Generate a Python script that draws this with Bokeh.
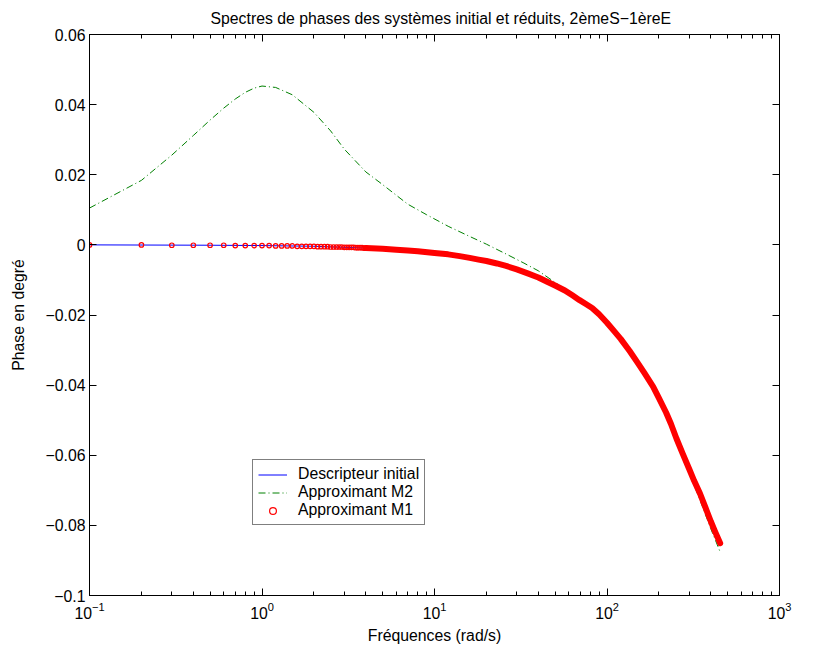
from bokeh.plotting import figure
from bokeh.models import (Range1d, FixedTicker, LinearAxis, LogAxis,
                          CustomJSTickFormatter, Legend, LegendItem)
from bokeh.embed import file_html
from bokeh.resources import INLINE

FONT = "Liberation Sans"
FS = "15.8px"

# ---------------- data ----------------
# Descripteur initial (blue line)
init_freq = [0.1, 0.5, 1, 2, 3, 4, 5, 6, 7, 8, 10, 12, 14, 16, 18, 20, 23,
             26, 30, 35, 40, 45, 50, 57, 63, 69, 75, 82, 90, 100, 110, 120,
             135, 150, 165, 185, 200, 220, 235, 253, 275, 300, 320, 346, 370,
             400, 425, 453]
init_phase = [0.0, -0.0001, -0.0002, -0.0004, -0.0007, -0.0009, -0.0011,
              -0.0014, -0.0016, -0.0018, -0.0023, -0.0027, -0.0032, -0.0037,
              -0.0042, -0.0046, -0.0053, -0.0060, -0.0070, -0.0082, -0.0093,
              -0.0105, -0.0116, -0.0130, -0.0144, -0.0157, -0.0168, -0.0180,
              -0.0198, -0.0222, -0.0246, -0.0268, -0.0302, -0.0335, -0.0366,
              -0.0404, -0.0437, -0.0478, -0.0511, -0.0553, -0.0596, -0.0640,
              -0.0673, -0.0709, -0.0746, -0.0789, -0.0820, -0.0851]

# Approximant M2 (green dash-dot)
m2_freq = [0.1, 0.2, 0.3, 0.4, 0.5, 0.6, 0.7, 0.8, 0.9, 1.0, 1.2, 1.5, 2.0,
           2.5, 3.0, 4.0, 5.0, 7.0, 9.0, 12, 16, 20, 26, 33, 40, 52, 66, 80,
           90, 100, 120, 150, 185, 220, 253, 300, 346, 400, 453]
m2_phase = [0.0105, 0.0184, 0.0256, 0.0312, 0.0356, 0.0390, 0.0416, 0.0435,
            0.0447, 0.0453, 0.0449, 0.0428, 0.0378, 0.0325, 0.0273, 0.0208,
            0.0172, 0.0116, 0.0086, 0.0053, 0.0024, 0.0002, -0.0026, -0.0052,
            -0.0074, -0.0113, -0.0148, -0.0180, -0.0202, -0.0226, -0.0274,
            -0.0340, -0.0412, -0.0488, -0.0560, -0.0650, -0.0728, -0.0810,
            -0.0876]

# Approximant M1 (red circles): individually visible markers
m1_freq = [0.1, 0.2, 0.3, 0.4, 0.5, 0.6, 0.7, 0.8, 0.9, 1.0,
           1.1, 1.2, 1.3, 1.4, 1.5, 1.6, 1.7, 1.8, 1.9, 2.0,
           2.1, 2.2, 2.3, 2.4, 2.5, 2.6, 2.7, 2.8, 2.9, 3.0,
           3.1, 3.2, 3.3, 3.4, 3.5, 3.6, 3.7, 3.8, 3.9, 4.0]
m1_phase = [0.0, 0.0, -0.0001, -0.0001, -0.0001, -0.0001, -0.0002, -0.0002, -0.0002, -0.0002,
            -0.0002, -0.0003, -0.0003, -0.0003, -0.0003, -0.0004, -0.0004, -0.0004, -0.0004, -0.0004,
            -0.0005, -0.0005, -0.0005, -0.0005, -0.0006, -0.0006, -0.0006, -0.0006, -0.0006, -0.0007,
            -0.0007, -0.0007, -0.0007, -0.0007, -0.0008, -0.0008, -0.0008, -0.0008, -0.0009, -0.0009]
# Approximant M1: dense part where the markers merge into a band
m1_band_freq = [4, 5, 6, 7, 8, 10, 12, 14, 16, 18, 20, 23, 26, 30, 35, 40,
                45, 50, 57, 63, 69, 75, 82, 90, 100, 110, 120, 135, 150, 165,
                185, 200, 220, 235, 253, 275, 300, 320, 346, 370, 400, 425, 453]
m1_band_phase = [-0.0009, -0.0011, -0.0014, -0.0016, -0.0018, -0.0023,
                 -0.0027, -0.0032, -0.0037, -0.0042, -0.0046, -0.0053,
                 -0.0060, -0.0070, -0.0082, -0.0093, -0.0105, -0.0116,
                 -0.0130, -0.0144, -0.0157, -0.0168, -0.0180, -0.0198,
                 -0.0222, -0.0246, -0.0268, -0.0302, -0.0335, -0.0366,
                 -0.0404, -0.0437, -0.0478, -0.0511, -0.0553, -0.0596,
                 -0.0640, -0.0673, -0.0709, -0.0746, -0.0789, -0.0820, -0.0851]

x_major = [0.1, 1, 10, 100, 1000]
x_minor = [m * d for d in [0.1, 1, 10, 100] for m in range(2, 10)]
y_ticks = [-0.1, -0.08, -0.06, -0.04, -0.02, 0, 0.02, 0.04, 0.06]

title_text = "Spectres de phases des systèmes initial et réduits, 2èmeS\u22121èreE"

# ---------------- figure ----------------
p = figure(width=810, height=653, x_axis_type="log",
           x_range=Range1d(0.1, 1000), y_range=Range1d(-0.1, 0.06),
           output_backend="svg", toolbar_location=None,
           min_border_left=89, min_border_right=31,
           min_border_top=34, min_border_bottom=58,
           title=title_text)

p.title.text_font = FONT
p.title.text_font_size = FS
p.title.text_font_style = "normal"
p.title.align = "left"
p.title.offset = 121
p.title.standoff = 15
p.title.text_color = "black"

p.xgrid.visible = False
p.ygrid.visible = False
p.outline_line_color = "black"
p.outline_line_width = 1
p.background_fill_color = "white"
p.border_fill_color = "white"

xt = FixedTicker(ticks=x_major, minor_ticks=x_minor)
yt = FixedTicker(ticks=y_ticks, minor_ticks=[])
yfmt = CustomJSTickFormatter(code="""
    let s = Number(tick.toFixed(2)).toString();
    return s.replace('-', '\\u2212');
""")

def style_axis(ax, show_labels=True):
    ax.axis_line_color = "black"
    ax.major_tick_line_color = "black"
    ax.minor_tick_line_color = "black"
    ax.major_tick_in = 7
    ax.major_tick_out = 0
    ax.minor_tick_in = 4
    ax.minor_tick_out = 0
    ax.major_label_text_font = FONT
    ax.major_label_text_color = "black"
    ax.axis_label_text_font = FONT
    ax.axis_label_text_font_size = FS
    ax.axis_label_text_font_style = "normal"
    ax.axis_label_text_color = "black"
    if show_labels:
        ax.major_label_text_font_size = FS
    else:
        ax.major_label_text_font_size = "1px"
        ax.major_label_text_alpha = 0
        ax.major_label_standoff = 0

xa = p.xaxis[0]
xa.ticker = xt
xa.axis_label = "Fréquences (rad/s)"
style_axis(xa)
xa.major_label_standoff = 6
xa.axis_label_standoff = 5

ya = p.yaxis[0]
ya.ticker = yt
ya.formatter = yfmt
ya.axis_label = "Phase en degré"
style_axis(ya)
ya.major_label_standoff = 4
ya.axis_label_standoff = 16

top = LogAxis(ticker=FixedTicker(ticks=x_major, minor_ticks=x_minor))
style_axis(top, show_labels=False)
p.add_layout(top, "above")

right = LinearAxis(ticker=FixedTicker(ticks=y_ticks, minor_ticks=[]))
style_axis(right, show_labels=False)
p.add_layout(right, "right")

# ---------------- glyphs ----------------
r_init = p.line(init_freq, init_phase, line_color="#0000ff", line_width=1)
r_m2 = p.line(m2_freq, m2_phase, line_color="#008000", line_width=1,
              line_dash="7 3 1 3")
p.line(m1_band_freq, m1_band_phase, line_color="red", line_width=6,
       line_cap="round", line_join="round")
r_m1 = p.scatter(m1_freq, m1_phase, marker="circle", size=4.5,
                 fill_color=None, line_color="red", line_width=1.2)

legend = Legend(items=[
    LegendItem(label="Descripteur initial", renderers=[r_init]),
    LegendItem(label="Approximant M2", renderers=[r_m2]),
    LegendItem(label="Approximant M1", renderers=[r_m1]),
], location=(163, 70))
legend.label_text_font = FONT
legend.label_text_font_size = FS
legend.label_text_color = "black"
legend.border_line_color = "black"
legend.border_line_width = 1
legend.background_fill_color = "white"
legend.background_fill_alpha = 1
legend.padding = 5
legend.margin = 0
legend.spacing = -4
legend.label_height = 17
legend.glyph_height = 17
legend.glyph_width = 29
legend.label_standoff = 11
p.add_layout(legend, "center")

open("out.html", "w").write(file_html(p, INLINE))
